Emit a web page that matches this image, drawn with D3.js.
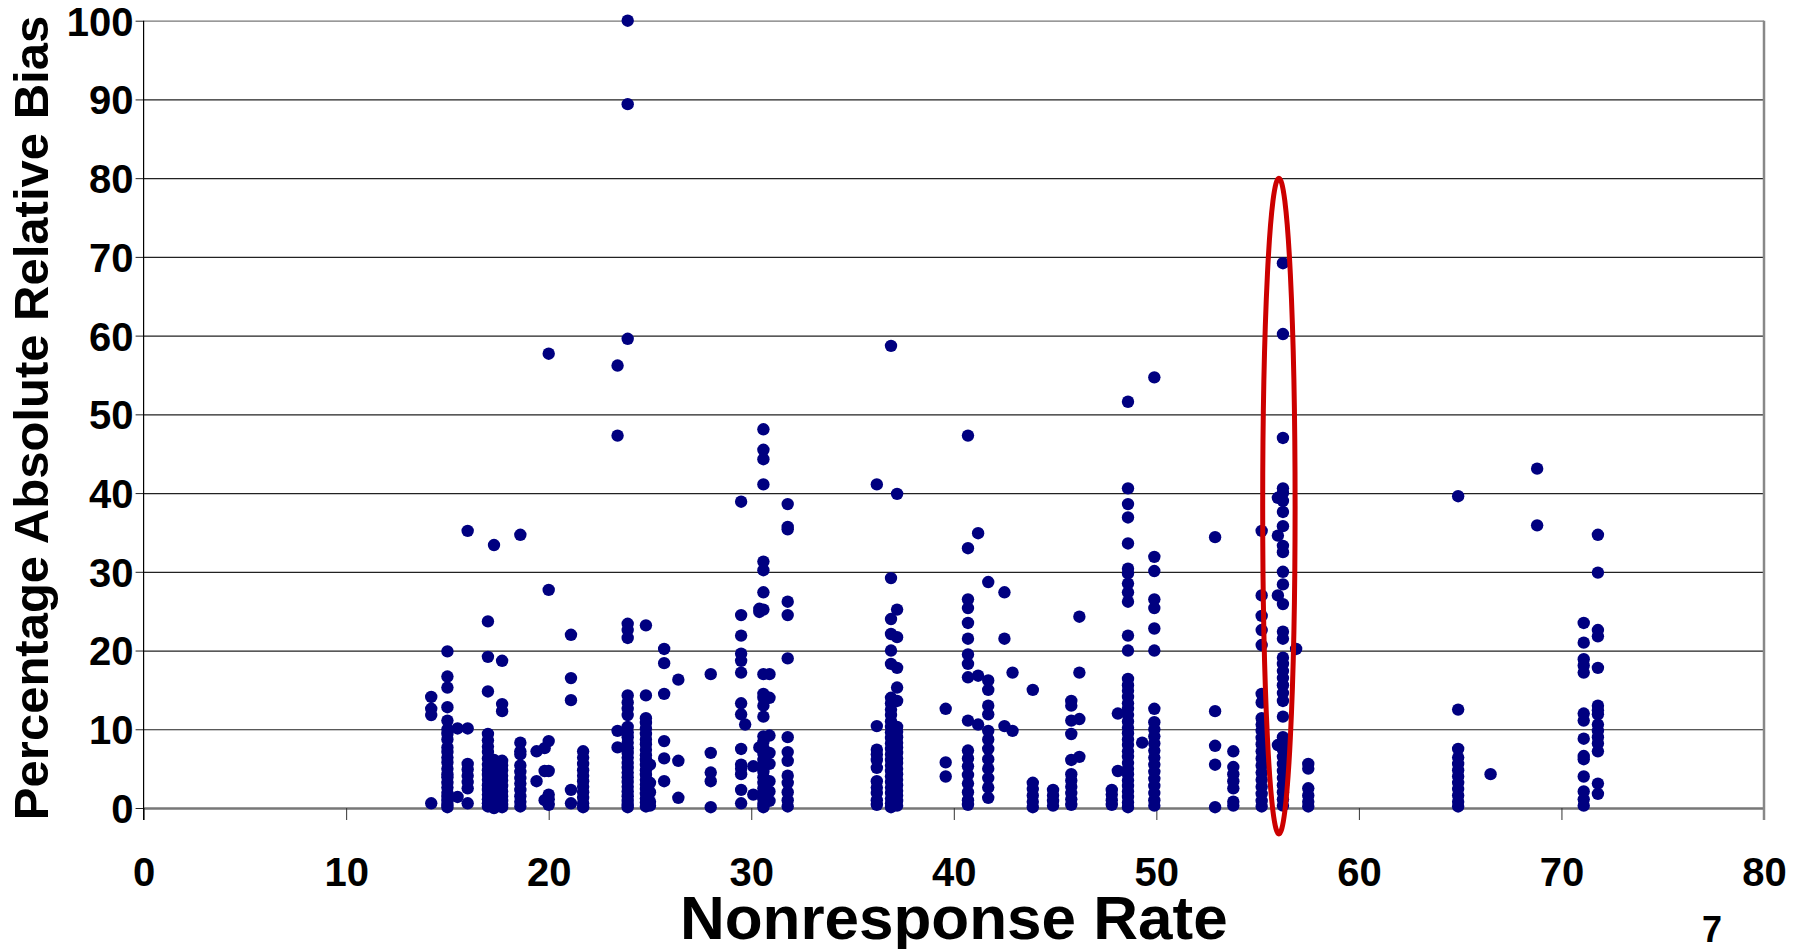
<!DOCTYPE html>
<html>
<head>
<meta charset="utf-8">
<script src="https://cdn.jsdelivr.net/npm/d3@7"></script>
<style>
  body { margin: 0; background: #fff; }
  svg text { font-family: "Liberation Sans", Arial, sans-serif; font-weight: bold; fill: #000; }
</style>
</head>
<body>
<svg id="chart" width="1802" height="949"></svg>
<script>
// nonresponse rate of each study column
rates = [14.2, 15.0, 15.5, 16.0, 17.0, 17.3, 17.7, 18.6, 19.4, 19.8, 20.0, 21.1, 21.7,
         23.4, 23.9, 24.8, 25.0, 25.7, 26.4, 28.0, 29.5, 29.7, 30.1, 30.4, 30.6, 30.9, 31.8,
         36.2, 36.9, 37.2, 39.6, 40.7, 41.2, 41.7, 42.5, 42.9, 43.9, 44.9, 45.8, 46.2,
         47.8, 48.1, 48.6, 49.3, 49.9, 52.9, 53.8, 55.2, 56.0, 56.25, 56.9, 57.5,
         64.9, 66.5, 68.8, 71.1, 71.8]

// percentage absolute relative bias of the estimates in each column
biases = [
    [14.1, 12.6, 11.8, 0.6],
    [19.9, 16.7, 15.3, 12.8, 11.1, 10.0, 9.4, 8.7, 7.7, 7.1, 6.4, 5.8, 5.0, 4.3, 3.9, 3.2, 2.6, 1.9, 1.4, 0.9, 0.4, 0.1],
    [10.1, 1.4],
    [35.2, 10.1, 5.6, 4.9, 4.1, 3.3, 2.5, 0.6],
    [23.7, 19.2, 14.8, 9.4, 8.6, 7.8, 7.1, 6.3, 5.5, 4.8, 4.2, 3.6, 2.9, 2.3, 1.7, 1.1, 0.6, 0.2],
    [33.4, 6.1, 5.2, 4.4, 3.7, 3.0, 2.4, 1.8, 1.2, 0.7, 0.3, 0.0],
    [18.7, 13.2, 12.3, 6.0, 5.4, 4.8, 4.1, 3.5, 2.8, 2.1, 1.5, 0.9, 0.4, 0.1],
    [34.7, 8.3, 7.2, 6.8, 5.4, 4.6, 3.8, 3.1, 2.3, 1.5, 0.8, 0.2],
    [7.2, 3.4],
    [7.6, 4.7, 1.0],
    [57.7, 27.7, 8.5, 4.7, 1.7, 1.1, 0.4],
    [22.0, 16.5, 13.7, 2.3, 0.6],
    [7.2, 6.4, 5.6, 4.8, 4.1, 3.4, 2.7, 2.0, 1.3, 0.6, 0.1],
    [56.2, 47.3, 9.8, 7.7],
    [100, 89.4, 59.6, 23.4, 22.6, 21.6, 14.3, 13.4, 12.6, 11.8, 10.3, 9.6, 9.0, 8.3, 7.6, 7.0, 6.4, 5.7, 5.1, 4.5, 3.9, 3.3, 2.7, 2.1, 1.5, 0.9, 0.4, 0.1],
    [23.2, 14.3, 11.4, 10.8, 10.1, 9.4, 8.7, 8.1, 7.4, 6.7, 6.1, 5.5, 4.8, 4.2, 3.6, 3.0, 2.4, 1.8, 1.2, 0.7, 0.2],
    [5.5, 3.2, 2.0, 0.8, 0.3],
    [20.2, 18.4, 14.5, 8.5, 6.3, 3.4],
    [16.3, 6.0, 1.3],
    [17.0, 7.0, 4.5, 3.4, 0.1],
    [38.9, 24.5, 21.9, 19.6, 18.7, 17.2, 13.3, 11.9, 7.5, 5.5, 5.0, 4.3, 2.3, 0.6],
    [10.6],
    [5.3, 1.7],
    [25.3, 24.9, 7.7],
    [48.1, 45.5, 44.3, 41.1, 31.3, 30.2, 27.4, 25.2, 17.0, 14.5, 14.0, 13.0, 11.6, 9.1, 8.4, 7.6, 6.9, 6.1, 5.4, 4.6, 3.9, 3.2, 2.5, 1.8, 1.1, 0.5, 0.1],
    [17.0, 14.0, 9.2, 7.0, 5.6, 3.4, 2.1, 0.9],
    [38.6, 35.7, 35.4, 26.2, 24.5, 19.0, 9.0, 7.1, 6.0, 4.1, 3.2, 2.0, 1.0, 0.2],
    [41.1, 10.4, 7.4, 6.8, 6.1, 5.1, 3.4, 2.6, 1.9, 1.0, 0.4],
    [58.7, 29.2, 24.0, 22.1, 20.0, 18.3, 14.0, 13.3, 12.5, 11.8, 11.0, 10.3, 9.6, 8.9, 8.2, 7.5, 6.8, 6.1, 5.4, 4.7, 4.0, 3.3, 2.6, 1.9, 1.2, 0.6, 0.1],
    [39.9, 25.2, 21.7, 17.8, 15.3, 13.6, 10.3, 9.7, 9.0, 8.3, 7.7, 7.0, 6.3, 5.7, 5.0, 4.3, 3.6, 2.9, 2.2, 1.6, 0.9, 0.3],
    [12.6, 5.8, 4.0],
    [47.3, 33.0, 26.5, 25.4, 23.5, 21.5, 19.5, 18.3, 16.6, 11.1, 7.3, 6.3, 5.3, 4.2, 3.1, 2.0, 1.0, 0.4],
    [34.9, 16.8, 10.6],
    [28.7, 16.2, 15.0, 13.0, 11.9, 9.8, 8.7, 7.5, 6.2, 5.0, 3.8, 2.6, 1.3],
    [27.4, 21.5, 10.4],
    [17.2, 9.8],
    [15.0, 3.2, 2.4, 1.6, 0.8, 0.1],
    [2.3, 1.6, 0.9, 0.3],
    [13.6, 13.0, 11.1, 9.4, 6.1, 4.3, 3.5, 2.7, 1.9, 1.1, 0.4],
    [24.3, 17.2, 11.3, 6.5],
    [2.3, 1.7, 1.0, 0.4],
    [12.0, 4.7],
    [51.6, 40.6, 38.6, 36.9, 33.6, 30.4, 29.8, 28.5, 27.4, 26.2, 21.9, 20.0, 16.4, 15.6, 14.9, 14.1, 13.3, 12.6, 11.8, 11.0, 10.2, 9.5, 8.7, 8.0, 7.2, 6.5, 5.7, 5.0, 4.3, 3.5, 2.8, 2.1, 1.4, 0.7, 0.1],
    [8.3],
    [54.7, 31.9, 30.1, 26.5, 25.4, 22.8, 20.0, 12.6, 10.9, 10.0, 9.1, 8.2, 7.3, 6.4, 5.5, 4.6, 3.7, 2.8, 1.9, 1.0, 0.3],
    [34.4, 12.3, 7.9, 5.5, 0.1],
    [7.2, 5.2, 4.3, 3.4, 2.5, 0.8, 0.3],
    [35.2, 27.0, 24.4, 22.6, 20.7, 14.5, 13.4, 11.4, 10.6, 9.8, 8.9, 8.1, 7.2, 6.3, 5.4, 4.5, 3.6, 2.7, 1.8, 0.9, 0.2],
    [39.4, 34.6, 27.0, 8.0],
    [69.2, 60.2, 47.0, 40.6, 40.0, 39.0, 37.6, 35.8, 33.3, 32.5, 30.0, 28.4, 25.9, 22.4, 21.5, 19.1, 18.3, 17.4, 16.5, 15.6, 14.6, 13.6, 11.6, 9.0, 8.3, 7.4, 6.5, 5.6, 4.7, 3.8, 2.9, 2.0, 1.1, 0.3],
    [20.2],
    [5.6, 5.0, 2.5, 1.6, 0.8, 0.2],
    [39.6, 12.5, 7.5, 6.4, 5.6, 4.8, 4.0, 3.2, 2.4, 1.6, 0.8, 0.2],
    [4.3],
    [43.1, 35.9],
    [23.5, 21.0, 18.9, 18.1, 17.2, 12.0, 11.1, 8.8, 6.6, 6.2, 4.0, 2.1, 1.1, 0.3],
    [34.7, 29.9, 22.6, 21.8, 17.8, 13.0, 12.4, 11.9, 10.6, 9.8, 9.0, 8.2, 7.2, 3.1, 1.8]
]

xTicks = [0, 10, 20, 30, 40, 50, 60, 70, 80]
yTicks = [0, 10, 20, 30, 40, 50, 60, 70, 80, 90, 100]

// highlighted column (red ellipse): centre rate, half width, bias range
highlight = {rate: 56.05, halfWidth: 0.8, low: -3.3, high: 80}

points = []
rates.forEach((r, i) => biases[i].forEach(b => points.push({rate: r, bias: b})))

var svg = d3.select("#chart")

var x = d3.scaleLinear().domain([0, 80]).range([143.6, 1764])
var y = d3.scaleLinear().domain([0, 100]).range([808, 20.7])

// horizontal gridlines with ticks sticking out on the left
svg.append("g")
    .attr("transform", "translate(" + x(0) + ",0)")
    .call(d3.axisLeft(y).tickValues(yTicks).tickSize(-(x(80) - x(0))).tickSizeOuter(0).tickFormat(""))
    .call(g => g.select(".domain").remove())
    .call(g => g.selectAll(".tick line").attr("stroke", "#222").attr("stroke-width", 1.2))
    .call(g => g.selectAll(".tick line").filter(d => d === 100).attr("stroke", "#777"))

svg.append("g")
    .attr("transform", "translate(" + x(0) + ",0)")
    .call(d3.axisLeft(y).tickValues(yTicks).tickSize(8).tickPadding(2))
    .call(g => g.select(".domain").remove())
    .call(g => g.selectAll(".tick line").attr("stroke", "#222"))
    .call(g => g.selectAll("text").attr("font-size", 40).attr("dy", "0.36em"))

// x axis
svg.append("g")
    .attr("transform", "translate(0," + y(0) + ")")
    .call(d3.axisBottom(x).tickValues(xTicks).tickSize(12).tickSizeOuter(0))
    .call(g => g.select(".domain").attr("stroke", "#777").attr("stroke-width", 2.5))
    .call(g => g.selectAll(".tick line").attr("stroke", "#333"))
    .call(g => g.selectAll("text").attr("font-size", 40).attr("y", 78).attr("dy", 0))

// left axis line and right frame
svg.append("line")
    .attr("x1", x(0)).attr("x2", x(0))
    .attr("y1", y(100)).attr("y2", y(0) + 12)
    .attr("stroke", "#000").attr("stroke-width", 1.2)
svg.append("line")
    .attr("x1", x(80)).attr("x2", x(80))
    .attr("y1", y(100)).attr("y2", y(0) + 12)
    .attr("stroke", "#888").attr("stroke-width", 2.5)

// points
svg.append("g")
    .selectAll("circle")
    .data(points)
    .enter()
        .append("circle")
        .attr("cx", d => x(d.rate))
        .attr("cy", d => y(d.bias))
        .attr("r", 6.2)
        .attr("fill", "#000080")

// red ellipse
svg.append("ellipse")
    .attr("cx", x(highlight.rate))
    .attr("cy", y((highlight.low + highlight.high) / 2))
    .attr("rx", x(highlight.rate + highlight.halfWidth) - x(highlight.rate))
    .attr("ry", y(highlight.low) - y((highlight.low + highlight.high) / 2))
    .attr("fill", "none")
    .attr("stroke", "#cc0000")
    .attr("stroke-width", 5)

// titles
svg.append("text")
    .attr("x", (x(0) + x(80)) / 2).attr("y", 939)
    .attr("text-anchor", "middle")
    .attr("font-size", 62)
    .text("Nonresponse Rate")

svg.append("text")
    .attr("transform", "translate(48," + 418 + ") rotate(-90)")
    .attr("text-anchor", "middle")
    .attr("font-size", 49)
    .text("Percentage Absolute Relative Bias")

svg.append("text")
    .attr("x", 1712).attr("y", 942)
    .attr("text-anchor", "middle")
    .attr("font-size", 36)
    .text("7")
</script>
</body>
</html>
